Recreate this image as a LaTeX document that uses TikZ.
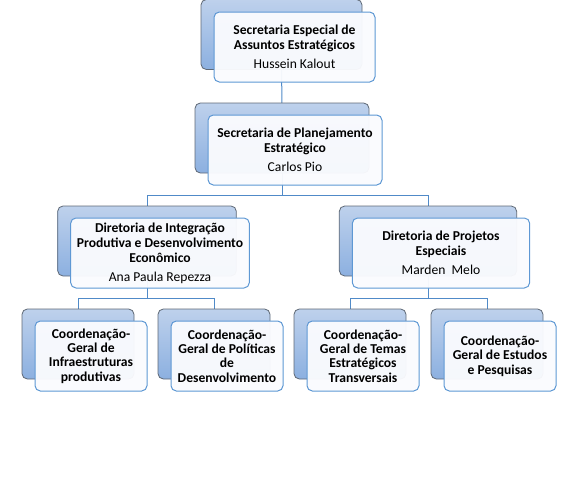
\documentclass[tikz,border=0pt]{standalone}
\usepackage{fontspec}
\setmainfont{Carlito}
\usepackage{xcolor}
\definecolor{backtop}{RGB}{190, 209, 236}
\definecolor{backbottom}{RGB}{140, 176, 224}
\definecolor{edgegray}{RGB}{95, 105, 118}
\definecolor{frontblue}{RGB}{94, 152, 212}
\definecolor{frontfill}{RGB}{250, 251, 254}
\definecolor{linkblue}{RGB}{80, 138, 200}
\usepackage{tikz}
\usetikzlibrary{calc, backgrounds}

\begin{document}
\begin{tikzpicture}[x=0.75pt, y=-0.75pt,
    backbox/.style={draw=edgegray, line width=0.6pt, rounded corners=4pt,
        top color=backtop, bottom color=backbottom, minimum height=52.5pt, inner sep=0pt},
    frontbox/.style={draw=frontblue, line width=0.75pt, rounded corners=4pt,
        fill=frontfill, fill opacity=0.96, text opacity=1, minimum height=52.5pt,
        align=center, inner sep=1pt, font=\fontsize{10.2}{11.25}\selectfont\bfseries},
    smallbox/.style={frontbox, font=\fontsize{10.2}{10.75}\selectfont\bfseries},
    link/.style={draw=linkblue, line width=0.75pt}]
    \useasboundingbox (0,0) rectangle (569,496);

    % secretaria especial
    \node[backbox, minimum width=120.75pt] (sae) at (281.5,34.5) {};
    \node[frontbox, minimum width=120.75pt] (saeF) at (294.5,47)
        {Secretaria Especial de\\Assuntos Estratégicos\\[3pt]\mdseries Hussein Kalout};

    % planejamento
    \node[backbox, minimum width=130.5pt] (spe) at (282,138) {};
    \node[frontbox, minimum width=130.5pt] (speF) at (295,150)
        {Secretaria de Planejamento\\Estratégico\\[3pt]\mdseries Carlos Pio};

    % diretorias
    \node[backbox, minimum width=134pt] (dip) at (147,241) {};
    \node[frontbox, minimum width=134pt] (dipF) at (160,253)
        {Diretoria de Integração\\Produtiva e Desenvolvimento\\Econômico\\[3pt]\mdseries Ana Paula Repezza};
    \node[backbox, minimum width=133pt] (dpe) at (428,241) {};
    \node[frontbox, minimum width=133pt] (dpeF) at (441,253)
        {Diretoria de Projetos\\Especiais\\[3pt]\mdseries Marden\ \ Melo};

    % coordenacoes
    \node[backbox, minimum width=84pt] (cgi) at (78,344) {};
    \node[smallbox, minimum width=84pt] (cgiF) at (91,356)
        {Coordenação-\\Geral de\\Infraestruturas\\produtivas};
    \node[backbox, minimum width=84pt] (cgp) at (214,344) {};
    \node[smallbox, minimum width=84pt] (cgpF) at (227,356)
        {Coordenação-\\Geral de Políticas\\de\\Desenvolvimento};
    \node[backbox, minimum width=84pt] (cgt) at (350,344) {};
    \node[smallbox, minimum width=84pt] (cgtF) at (363,356)
        {Coordenação-\\Geral de Temas\\Estratégicos\\Transversais};
    \node[backbox, minimum width=84pt] (cge) at (487,344) {};
    \node[smallbox, minimum width=84pt] (cgeF) at (500,356)
        {Coordenação-\\Geral de Estudos\\e Pesquisas};

    % connectors behind the boxes
    \begin{scope}[on background layer]
        \draw[link] (sae.center) -- (spe.center);
        \coordinate (jspe) at ($(speF.south)!0.5!(dip.north)$);
        \draw[link] (spe.center) |- (jspe) -| (dip.center);
        \draw[link] (spe.center) |- (jspe) -| (dpe.center);
        \coordinate (jdip) at ($(dipF.south)!0.5!(cgi.north)$);
        \draw[link] (dip.center) |- (jdip) -| (cgi.center);
        \draw[link] (dip.center) |- (jdip) -| (cgp.center);
        \coordinate (jdpe) at ($(dpeF.south)!0.5!(cgt.north)$);
        \draw[link] (dpe.center) |- (jdpe) -| (cgt.center);
        \draw[link] (dpe.center) |- (jdpe) -| (cge.center);
    \end{scope}
\end{tikzpicture}
\end{document}
